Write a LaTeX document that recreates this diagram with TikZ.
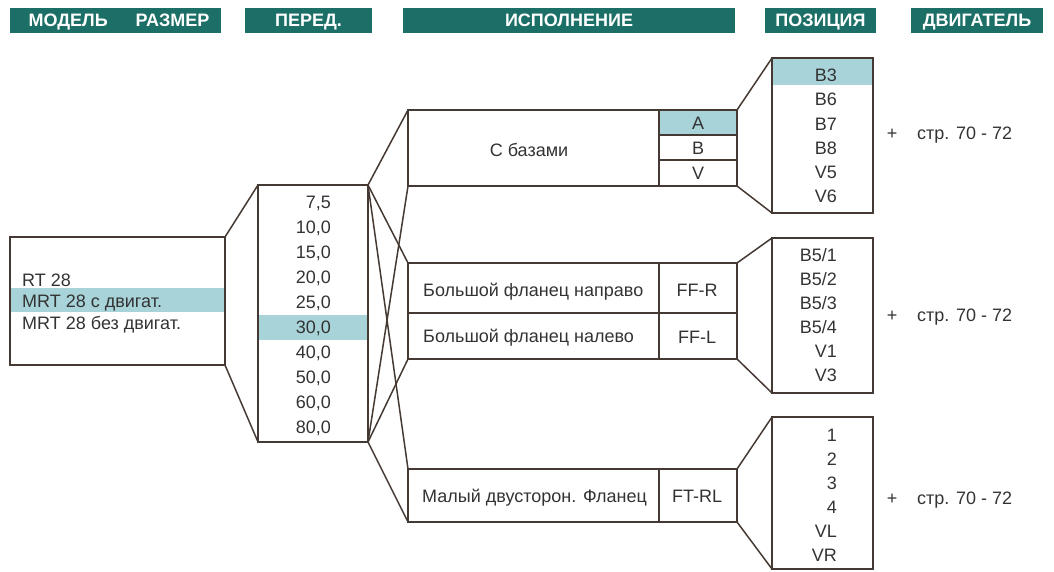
\documentclass[tikz,border=0pt]{standalone}
\usepackage{fontspec}
\setmainfont{Liberation Sans}
\definecolor{barteal}{HTML}{1B6F66}
\definecolor{marklight}{HTML}{A8D3D9}
\definecolor{edgebrown}{HTML}{453A33}
\definecolor{inkgrey}{HTML}{333333}
\begin{document}
\begin{tikzpicture}[x=1pt,y=-1pt,
    bar/.style={fill=barteal,text=white,font=\bfseries\fontsize{18}{18}\selectfont,inner sep=0,minimum height=25,text height=12.5pt,text depth=0pt},
    frame/.style={draw=edgebrown,line width=2.8,inner sep=0,outer sep=0},
    cell/.style={draw=edgebrown,line width=1.3},
    link/.style={draw=edgebrown,line width=1.5},
    hilite/.style={fill=marklight,inner sep=0,outer sep=0},
    lbl/.style={font=\fontsize{18}{18}\selectfont,inner sep=0,text=inkgrey}]
        \useasboundingbox (0,0) rectangle (1054,571);
        \node[bar,minimum width=211] (hmodel) at (115.5,20.5) {\hspace{7pt}МОДЕЛЬ\hspace{28pt}РАЗМЕР};
        \node[bar,minimum width=127] (hratio) at (308.5,20.5) {ПЕРЕД.};
        \node[bar,minimum width=332] (hexec) at (569,20.5) {ИСПОЛНЕНИЕ};
        \node[bar,minimum width=111] (hpos) at (820.5,20.5) {ПОЗИЦИЯ};
        \node[bar,minimum width=132] (hmotor) at (977,20.5) {ДВИГАТЕЛЬ};
        \node[hilite,minimum width=215,minimum height=24] (hlmodel) at (117.5,300) {};
        \node[hilite,minimum width=110,minimum height=25] (hlratio) at (313,327.5) {};
        \node[hilite,minimum width=78,minimum height=25] (hlexec) at (698,122.5) {};
        \node[hilite,minimum width=101,minimum height=27] (hlpos) at (822.5,71.5) {};
        \node[frame,minimum width=215,minimum height=128] (model) at (117.5,301) {};
        \node[frame,minimum width=110,minimum height=257] (ratio) at (313,313.5) {};
        \node[frame,minimum width=329,minimum height=76] (exec1) at (572.5,148) {};
        \node[frame,minimum width=329,minimum height=96] (exec2) at (572.5,311) {};
        \node[frame,minimum width=329,minimum height=53] (exec3) at (572.5,495.5) {};
        \node[frame,minimum width=101,minimum height=155] (pos1) at (822.5,135.5) {};
        \node[frame,minimum width=101,minimum height=155] (pos2) at (822.5,315.5) {};
        \node[frame,minimum width=101,minimum height=152] (pos3) at (822.5,493) {};
        \draw[cell] (659,110) -- (659,186) (659,135) -- (737,135) (659,160) -- (737,160);
        \draw[cell] (408,313) -- (737,313) (659,263) -- (659,359);
        \draw[cell] (659,469) -- (659,522);
        \node[lbl,anchor=base west] (m1) at (22,286) {RT 28};
        \node[lbl,anchor=base west] (m2) at (22,307) {MRT 28 с двигат.};
        \node[lbl,anchor=base west] (m3) at (22,329) {MRT 28 без двигат.};
        \foreach \v [count=\i] in {{7,5},{10,0},{15,0},{20,0},{25,0},{30,0},{40,0},{50,0},{60,0},{80,0}}
            \node[lbl,anchor=base east] (r\i) at (331,183.5+25*\i) {\v};
        \node[lbl,anchor=base] (e1) at (529,156.5) {С базами};
        \node[lbl,anchor=base] (e1a) at (698,129.5) {A};
        \node[lbl,anchor=base] (e1b) at (698,154.5) {B};
        \node[lbl,anchor=base] (e1v) at (698,179.5) {V};
        \node[lbl,anchor=base west] (e2) at (423,296.5) {Большой фланец направо};
        \node[lbl,anchor=base west] (e3) at (423,342.5) {Большой фланец налево};
        \node[lbl,anchor=base] (e2c) at (697,296.5) {FF-R};
        \node[lbl,anchor=base] (e3c) at (697,343.5) {FF-L};
        \node[lbl,anchor=base west] (e4) at (422,502.5) {Малый двусторон. Фланец};
        \node[lbl,anchor=base] (e4c) at (697,502.5) {FT-RL};
        \foreach \p [count=\i] in {B3,B6,B7,B8,V5,V6}
            \node[lbl,anchor=base east] (pa\i) at (837,57.5+24.2*\i) {\p};
        \foreach \p [count=\i] in {B5/1,B5/2,B5/3,B5/4,V1,V3}
            \node[lbl,anchor=base east] (pb\i) at (837,237.5+24*\i) {\p};
        \foreach \p [count=\i] in {1,2,3,4,VL,VR}
            \node[lbl,anchor=base east] (pc\i) at (837,417.5+24*\i) {\p};
        \foreach \y [count=\i] in {139.5,321.5,504.5} {
            \node[lbl,anchor=base] (plus\i) at (892,\y) {+};
            \node[lbl,anchor=base west] (page\i) at (917,\y) {стр. 70 - 72};
        }
        \draw[link] (model.north east) -- (ratio.north west);
        \draw[link] (model.south east) -- (ratio.south west);
        \foreach \k in {1,2,3} {
            \draw[link] (ratio.north east) -- (exec\k.north west);
            \draw[link] (ratio.south east) -- (exec\k.south west);
            \draw[link] (exec\k.north east) -- (pos\k.north west);
            \draw[link] (exec\k.south east) -- (pos\k.south west);
        }
\end{tikzpicture}
\end{document}
